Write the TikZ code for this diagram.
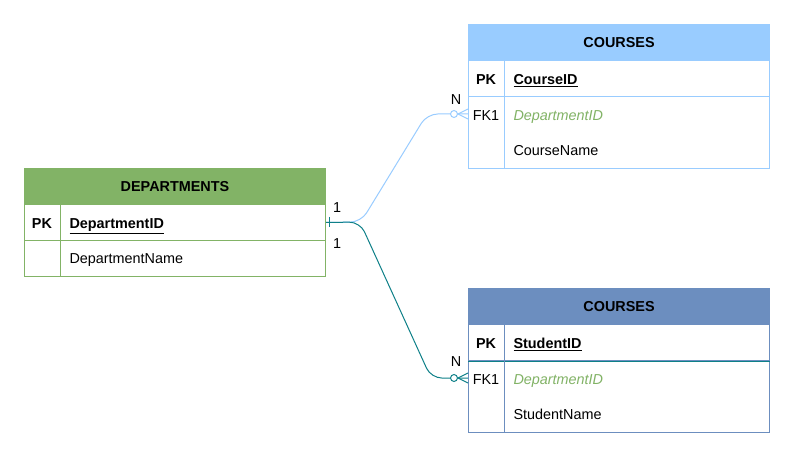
\documentclass[tikz,border=0pt]{standalone}
\usepackage{fontspec}
\setmainfont{Liberation Sans}
\definecolor{dgreen}{HTML}{82B366}
\definecolor{lblue}{HTML}{99CCFF}
\definecolor{sblue}{HTML}{6C8EBF}
\definecolor{eteal}{HTML}{0E8088}
\begin{document}
\begin{tikzpicture}[x=0.75pt,y=-0.75pt,line width=0.75pt,
  every node/.style={font=\fontsize{10.8pt}{13pt}\selectfont, inner sep=0pt, text height=7.7pt, text depth=0pt},
  tbox/.style={draw, anchor=north west, minimum width=225.75pt},
  hrow/.style={tbox, minimum height=27pt, font=\fontsize{10.8pt}{13pt}\selectfont\bfseries},
  frow/.style={tbox, minimum height=27pt},
  brow/.style={tbox, minimum height=54pt},
  lbl/.style={anchor=west},
  key/.style={font=\fontsize{10.8pt}{13pt}\selectfont\bfseries},
  fk/.style={anchor=west, text=dgreen, font=\fontsize{10.8pt}{13pt}\selectfont\itshape},
  rel/.style={rounded corners=8pt}]
\useasboundingbox (0,0) rectangle (795,459);
\fill[white] (0,0) rectangle (795,459);

% DEPARTMENTS
\node[hrow, draw=dgreen, fill=dgreen] (dhead) at (24,168) {DEPARTMENTS};
\node[frow, draw=dgreen] (dpk) at (24,204) {};
\node[frow, draw=dgreen] (dname) at (24,240) {};
\draw[dgreen] (60,204) -- (60,276);
\node[key] (dpkk) at (42,223) {PK};
\node[lbl] (dpkn) at (69,223) {\underline{\textbf{DepartmentID}}};
\node[lbl] (dnm) at (69,258) {DepartmentName};

% COURSES (top)
\node[hrow, draw=lblue, fill=lblue] (chead) at (468,24) {COURSES};
\node[frow, draw=lblue] (cpk) at (468,60) {};
\node[brow, draw=lblue] (cbody) at (468,96) {};
\draw[lblue] (504,60) -- (504,168);
\node[key] (cpkk) at (486,79) {PK};
\node[lbl] (cpkn) at (513,79) {\underline{\textbf{CourseID}}};
\node (cfkk) at (486,115) {FK1};
\node[fk] (cfkn) at (513,115) {DepartmentID};
\node[lbl] (cnm) at (513,150) {CourseName};

% COURSES (bottom)
\node[hrow, draw=sblue, fill=sblue] (shead) at (468,288) {COURSES};
\node[frow, draw=sblue] (spk) at (468,324) {};
\node[brow, draw=sblue] (sbody) at (468,360) {};
\draw[eteal] (spk.south west) -- (spk.south east);
\draw[sblue] (504,324) -- (504,432);
\node[key] (spkk) at (486,343) {PK};
\node[lbl] (spkn) at (513,343) {\underline{\textbf{StudentID}}};
\node (sfkk) at (486,379) {FK1};
\node[fk] (sfkn) at (513,379) {DepartmentID};
\node[lbl] (snm) at (513,414) {StudentName};

% connectors
\coordinate (cA) at (468,114);
\coordinate (sA) at (468,378);
\draw[lblue, rel] (dpk.east) -- (361,222) -- (427,114) -- (cA);
\draw[eteal, rel] (dpk.east) -- (360,222) -- (431,378) -- (sA);

% ends
\draw[eteal] (329,217) -- (329,227);
\draw[lblue, fill=white] (454,114) circle[radius=2.6pt];
\draw[lblue] (458,114) -- (468,109) (458,114) -- (468,119);
\draw[eteal, fill=white] (454,378) circle[radius=2.6pt];
\draw[eteal] (458,378) -- (468,373) (458,378) -- (468,383);

% labels
\node (one1) at (337,207) {1};
\node (one2) at (337,243) {1};
\node (n1) at (456,99) {N};
\node (n2) at (456,361) {N};
\end{tikzpicture}
\end{document}
